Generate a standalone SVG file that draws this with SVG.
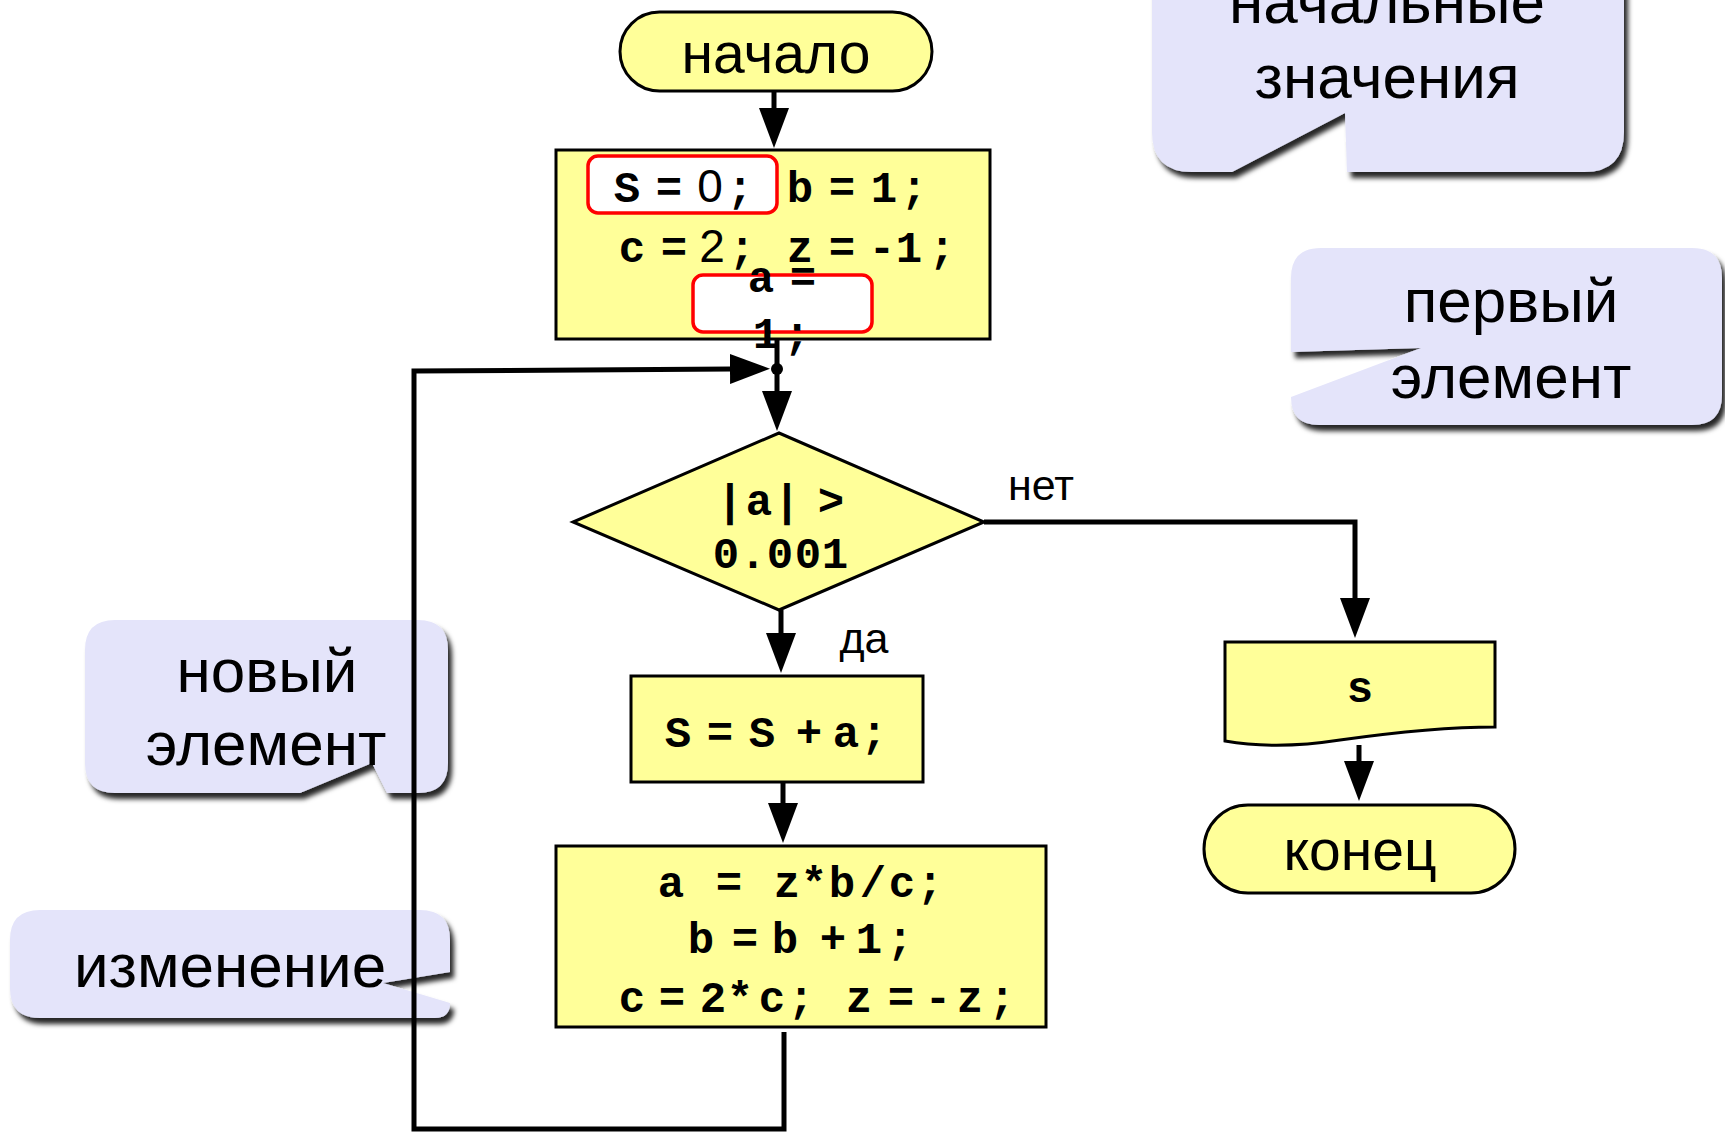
<svg xmlns="http://www.w3.org/2000/svg" width="1725" height="1133" viewBox="0 0 1725 1133">
<style>
.node{fill:#FFFF99;stroke:#000;stroke-width:3}
.red{fill:#FFFFFF;stroke:#FF0000;stroke-width:3.5}
.call{fill:#E4E4FA;stroke:none;filter:url(#sh)}
.conn{fill:none;stroke:#000;stroke-width:5}
.sans{font-family:"Liberation Sans",Arial,sans-serif;fill:#000}
.code{font-family:"Liberation Mono","Courier New",monospace;font-weight:bold;font-size:44px;fill:#000;text-anchor:middle}
.digit{font-family:"Liberation Sans",Arial,sans-serif;font-weight:normal;font-size:46px}
.ctext{font-family:"Liberation Sans",Arial,sans-serif;font-size:62px;fill:#000;text-anchor:middle}
</style>
<defs>
<filter id="sh" x="-10%" y="-10%" width="125%" height="135%">
<feDropShadow dx="4" dy="6" stdDeviation="2.5" flood-color="#000" flood-opacity="0.85"/>
</filter>
<marker id="ah" viewBox="0 0 40 30" refX="2" refY="15" markerWidth="40" markerHeight="30" markerUnits="userSpaceOnUse" orient="auto">
<path d="M0,0 L40,15 L0,30 Z" fill="#000"/>
</marker>
</defs>
<rect width="1725" height="1133" fill="#FFFFFF"/>

<g id="callout-start-values">
<path class="call" d="M1192,-50 H1584 Q1624,-50 1624,-10 V132 Q1624,172 1584,172 H1347 L1345,113 L1232,172 H1192 Q1152,172 1152,132 V-10 Q1152,-50 1192,-50 Z"/>
<text class="ctext" x="1387" y="23">начальные</text>
<text class="ctext" x="1387" y="98">значения</text>
</g>

<g id="callout-first">
<path class="call" d="M1321,248 H1692 Q1722,248 1722,278 V395 Q1722,425 1692,425 H1319 Q1291,425 1291,397 L1421,348 L1291,352 V278 Q1291,248 1321,248 Z"/>
<text class="ctext" x="1511" y="322">первый</text>
<text class="ctext" x="1511" y="398">элемент</text>
</g>

<g id="callout-new">
<path class="call" d="M115,620 H418 Q448,620 448,650 V763 Q448,793 418,793 H387 L372,763 L300,793 H115 Q85,793 85,763 V650 Q85,620 115,620 Z"/>
<text class="ctext" x="267" y="692">новый</text>
<text class="ctext" x="266" y="765">элемент</text>
</g>

<g id="callout-change">
<path class="call" d="M40,910 H420 Q450,910 450,940 V972 L383,983 L450,1003 Q450,1018 435,1018 H40 Q10,1018 10,988 V940 Q10,910 40,910 Z"/>
<text class="ctext" x="230" y="987">изменение</text>
</g>

<g id="connectors">
<line class="conn" x1="774" y1="91" x2="774" y2="110" marker-end="url(#ah)"/>
<line class="conn" x1="777" y1="339" x2="777" y2="393" marker-end="url(#ah)"/>
<polyline class="conn" points="784,1032 784,1129 414,1129 414,371 732,369" marker-end="url(#ah)"/>
<circle cx="777" cy="369" r="6" fill="#000"/>
<line class="conn" x1="781" y1="610" x2="781" y2="635" marker-end="url(#ah)"/>
<line class="conn" x1="783" y1="782" x2="783" y2="805" marker-end="url(#ah)"/>
<polyline class="conn" points="984,522 1355,522 1355,600" marker-end="url(#ah)"/>
<line class="conn" x1="1359" y1="745" x2="1359" y2="763" marker-end="url(#ah)"/>
<text class="sans" x="1041" y="500" font-size="43" text-anchor="middle">нет</text>
<text class="sans" x="864" y="653" font-size="43" text-anchor="middle">да</text>
</g>

<g id="start">
<rect class="node" x="620" y="12" width="312" height="79" rx="39.5" ry="39.5"/>
<text class="sans" x="776" y="73" font-size="57" text-anchor="middle">начало</text>
</g>

<g id="init">
<rect class="node" x="556" y="150" width="434" height="189"/>
<rect class="red" x="588" y="156" width="189" height="57" rx="10"/>
<rect class="red" x="693" y="275" width="179" height="57" rx="10"/>
<text class="code" x="627 648 669 690 710 740" y="202">S = <tspan class="digit">0</tspan>;</text>
<text class="code" x="800 821 842 863 884 914" y="202">b = 1;</text>
<text class="code" x="632 653 674 693 712 742" y="262">c = <tspan class="digit">2</tspan>;</text>
<text class="code" x="800 821 842 862 882 909 942" y="262">z = -1;</text>
<text class="code" x="761 782 803" y="292">a =</text>
<text class="code" x="766 797" y="348">1;</text>
</g>

<g id="condition">
<polygon class="node" points="779,433 984,522 779,610 573,522"/>
<text class="code" font-size="45" x="730 759 787 809 831" y="515">|a| &gt;</text>
<text class="code" font-size="45" x="726 753 780 808 835" y="568">0.001</text>
</g>

<g id="sum">
<rect class="node" x="631" y="676" width="292" height="106"/>
<text class="code" x="678 699 720 741 762 785 809 827 846 874" y="747">S = S + a;</text>
</g>

<g id="update">
<rect class="node" x="556" y="846" width="490" height="181"/>
<text class="code" x="671 700 729 758 787 814 842 873 902 930" y="897">a = z*b/c;</text>
<text class="code" x="701 723 745 765 785 809 833 851 869 900" y="953">b = b + 1;</text>
<text class="code" x="632 652 672 692 713 740 772 801 830 859 880 901 920 938 970 1002" y="1012">c = 2*c; z = -z;</text>
</g>

<g id="output">
<path class="node" d="M1225,642 H1495 V727 C1440,727 1390,733 1340,740 C1295,747 1260,747 1225,741 Z"/>
<text class="code" font-size="50" x="1360" y="702">s</text>
</g>

<g id="end">
<rect class="node" x="1204" y="805" width="311" height="88" rx="44" ry="44"/>
<text class="sans" x="1360" y="870" font-size="57" text-anchor="middle">конец</text>
</g>
</svg>
